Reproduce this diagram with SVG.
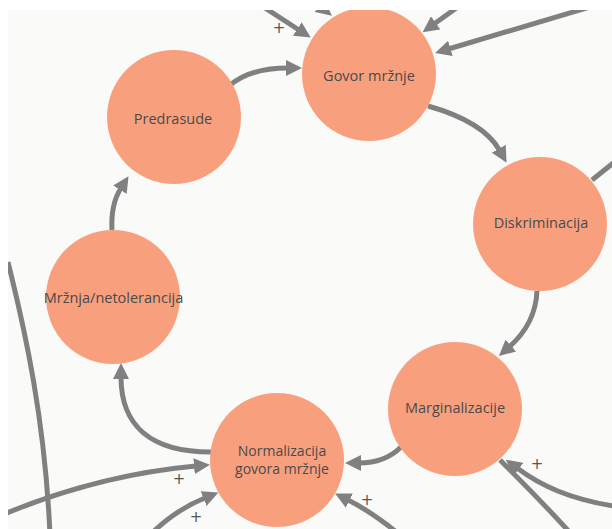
<svg xmlns="http://www.w3.org/2000/svg" width="612" height="529" viewBox="0 0 612 529">
<defs>
<style>
.node{fill:#f8a07e}
.lbl{font-family:"Open Sans","Liberation Sans",sans-serif;font-size:14.5px;fill:#4a4a4a;text-anchor:middle;dominant-baseline:central}
.lbl2{font-size:14px}
.edge{fill:none;stroke:#808080;stroke-width:5}
.plus{font-family:"DejaVu Sans","Liberation Sans",sans-serif;font-size:15px;fill:#555555;text-anchor:middle;dominant-baseline:central}
</style>
<marker id="ah" viewBox="0 0 16 16" refX="2" refY="8" markerWidth="16" markerHeight="16" markerUnits="userSpaceOnUse" orient="auto">
<path d="M0,0 L16,8 L0,16 z" fill="#808080"/>
</marker>
<clipPath id="area"><rect x="8" y="10" width="604" height="519"/></clipPath>
</defs>
<rect width="612" height="529" fill="#ffffff"/>
<rect x="8" y="10" width="604" height="519" fill="#fafaf8"/>
<g clip-path="url(#area)">
<g id="connectors">
<path class="edge" d="M229,86 C245,72 265,68 288,68" marker-end="url(#ah)"/>
<path class="edge" d="M428,106 C460,115 487,128 499.7,150.5" marker-end="url(#ah)"/>
<path class="edge" d="M537,291 C536,315 525,333 509.4,346.8" marker-end="url(#ah)"/>
<path class="edge" d="M401,447 C390,458 375,463 359,463" marker-end="url(#ah)"/>
<path class="edge" d="M211,452 C150,452 121,425 121,377" marker-end="url(#ah)"/>
<path class="edge" d="M112,230 C111,212 114,199 121,188" marker-end="url(#ah)"/>
<path class="edge" d="M262,6 L299,30" marker-end="url(#ah)"/>
<path class="edge" d="M300,-10 L321,7" marker-end="url(#ah)"/>
<path class="edge" d="M462,4 L434,24" marker-end="url(#ah)"/>
<path class="edge" d="M600,4 L448.5,49" marker-end="url(#ah)"/>
<path class="edge" d="M592,180 L622,156"/>
<path class="edge" d="M8,262 C25,330 45,420 50,535"/>
<path class="edge" d="M-5,518 C60,490 130,472 196,466" marker-end="url(#ah)"/>
<path class="edge" d="M150,535 Q175,510 205.4,497.8" marker-end="url(#ah)"/>
<path class="edge" d="M400,535 Q372,512 347.6,499.8" marker-end="url(#ah)"/>
<path class="edge" d="M620,507 C570,500 540,485 517,468" marker-end="url(#ah)"/>
<path class="edge" d="M500,460 C530,490 550,510 572,535"/>
</g>
<g id="node-govor"><circle class="node" cx="369" cy="74" r="67"/><text class="lbl" x="369" y="75">Govor mržnje</text></g>
<g id="node-predrasude"><circle class="node" cx="174" cy="117" r="67"/><text class="lbl" x="173" y="118">Predrasude</text></g>
<g id="node-diskriminacija"><circle class="node" cx="540" cy="224" r="67"/><text class="lbl" x="541" y="222">Diskriminacija</text></g>
<g id="node-mrznja"><circle class="node" cx="113" cy="297" r="67"/><text class="lbl" x="113.5" y="297">Mržnja/netolerancija</text></g>
<g id="node-marginalizacije"><circle class="node" cx="455" cy="409" r="67"/><text class="lbl" x="455" y="407">Marginalizacije</text></g>
<g id="node-normalizacija"><circle class="node" cx="277" cy="460" r="67"/><text class="lbl lbl2" x="282" y="450">Normalizacija</text><text class="lbl lbl2" x="282" y="468">govora mržnje</text></g>
<g id="signs">
<text class="plus" x="279" y="28">+</text>
<text class="plus" x="179" y="479">+</text>
<text class="plus" x="196" y="517">+</text>
<text class="plus" x="367" y="500">+</text>
<text class="plus" x="537" y="464">+</text>
</g>
</g>
</svg>
